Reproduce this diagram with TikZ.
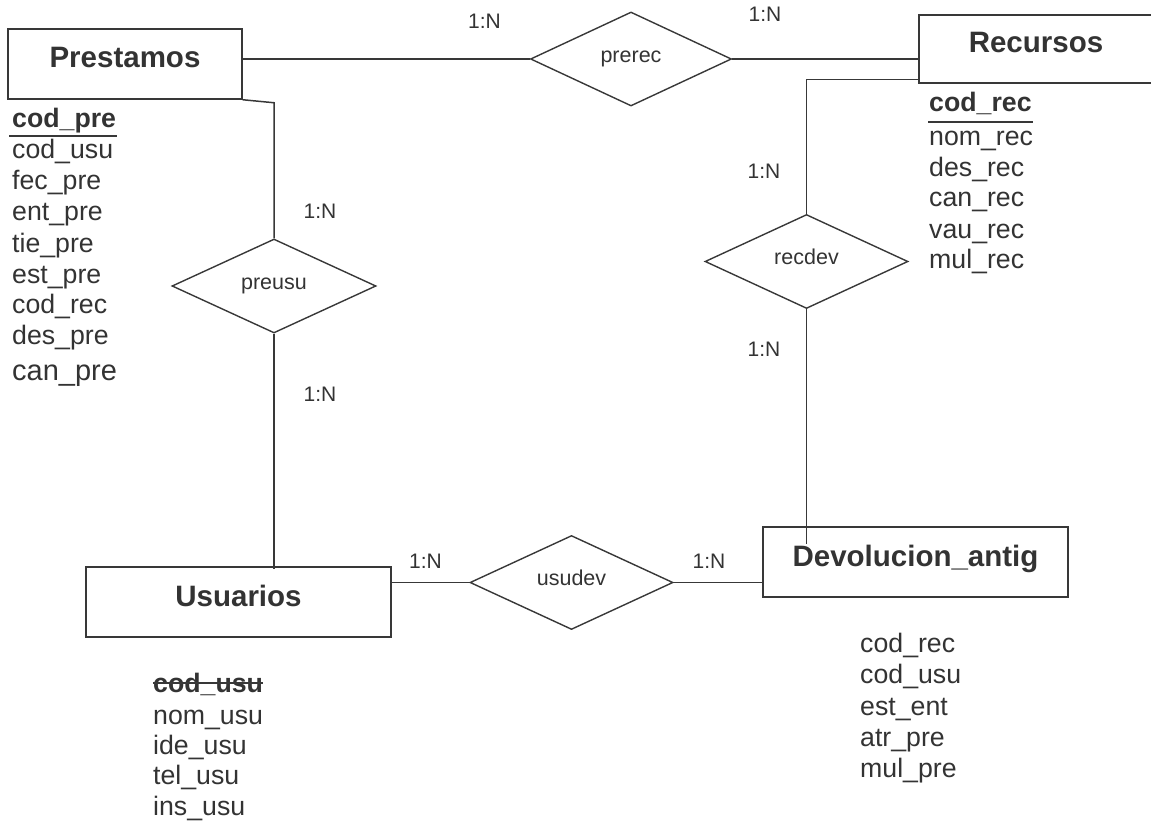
\documentclass[tikz,border=0pt]{standalone}
\usepackage{fontspec}
\setmainfont{Liberation Sans}
\usetikzlibrary{shapes.geometric}
\definecolor{ink}{HTML}{333333}
\definecolor{edge}{HTML}{383838}

\begin{document}
\begin{tikzpicture}[x=1pt,y=-1pt,
  entity/.style={draw=edge, line width=1.5pt, rectangle, minimum width=305pt,
    minimum height=70pt, inner sep=0pt, text=ink,
    font=\fontsize{29.5}{32}\selectfont\bfseries, text height=21pt, text depth=13pt},
  rel/.style={draw=edge, line width=1.4pt, diamond, minimum width=203pt,
    minimum height=94pt, inner sep=0pt, text=ink,
    font=\fontsize{21.5}{24}\selectfont, text height=11.2pt, text depth=4.5pt},
  card/.style={text=ink, inner sep=0pt, font=\fontsize{21}{24}\selectfont},
  attr/.style={anchor=base west, text=ink, inner sep=0pt,
    font=\fontsize{26.7}{30}\selectfont},
  keyattr/.style={attr, font=\fontsize{26.7}{30}\selectfont\bfseries},
  link/.style={draw=edge, line width=1.5pt},
  keymark/.style={draw=edge, line width=2.6pt},
]
\useasboundingbox (0,0) rectangle (1151,829);

% entities
\node[entity, minimum width=234pt] (pre) at (125,64) {Prestamos};
\node[entity, minimum width=234pt, minimum height=68pt] (rec) at (1036,49) {Recursos};
\node[entity] (usu) at (238.5,602) {Usuarios};
\node[entity] (dev) at (915.5,562) {Devolucion\_antig\hspace{15pt}};

% relationships
\node[rel, minimum width=201pt] (prerec) at (631,59) {prerec};
\node[rel] (recdev) at (806.5,261.5) {recdev};
\node[rel, minimum width=204pt] (preusu) at (274,286) {preusu};
\node[rel] (usudev) at (571.5,582.5) {usudev};

% connectors
\draw[link] (pre.east |- prerec.west) -- (prerec.west);
\draw[link] (prerec.east) -- (prerec.east -| rec.west);
\draw[link] ([yshift=4pt]rec.south west) -| (recdev.north);
\draw[link] (recdev.south) -- ([yshift=-18pt]recdev.south |- dev.north);
\draw[link] (pre.south east) -- ([yshift=-3pt]pre.south east -| preusu.north) -- (preusu.north);
\draw[link] (preusu.south) -- ([yshift=-3pt]preusu.south |- usu.north);
\draw[link] (usudev.west) -- (usudev.west -| usu.east);
\draw[link] (usudev.east) -- (usudev.east -| dev.west);

% cardinalities
\node[card] (c1) at (484.5,21.5) {1:N};
\node[card] (c2) at (765,14) {1:N};
\node[card] (c3) at (320,211) {1:N};
\node[card] (c4) at (320,394) {1:N};
\node[card] (c5) at (764,171) {1:N};
\node[card] (c6) at (764,349) {1:N};
\node[card] (c7) at (425.5,561) {1:N};
\node[card] (c8) at (709,561) {1:N};

% Prestamos attributes
\node[keyattr] (pk) at (12,128) {cod\_pre};
\draw[keymark] ([xshift=-3pt,yshift=-8pt]pk.base west) -- ([xshift=1pt,yshift=-8pt]pk.base east);
\foreach \t/\y [count=\i] in {cod\_usu/159, fec\_pre/190, ent\_pre/221, tie\_pre/252,
    est\_pre/283, cod\_rec/313, des\_pre/344}
  \node[attr] (pa\i) at (12,\y) {\t};
\node[attr, font=\fontsize{29}{32}\selectfont] (pa8) at (12,380) {can\_pre};

% Recursos attributes
\node[keyattr] (rk) at (929,112) {cod\_rec};
\draw[keymark] ([xshift=-1pt,yshift=-10pt]rk.base west) -- ([xshift=1pt,yshift=-10pt]rk.base east);
\foreach \t/\y [count=\i] in {nom\_rec/146, des\_rec/177, can\_rec/207, vau\_rec/238, mul\_rec/268}
  \node[attr] (ra\i) at (929,\y) {\t};

% Usuarios attributes
\node[keyattr] (uk) at (153,692) {cod\_usu};
\draw[keymark] ([yshift=9pt]uk.base west) -- ([yshift=9pt]uk.base east);
\foreach \t/\y [count=\i] in {nom\_usu/724, ide\_usu/754, tel\_usu/784, ins\_usu/815}
  \node[attr] (ua\i) at (153,\y) {\t};

% Devolucion_antig attributes
\foreach \t/\y [count=\i] in {cod\_rec/652, cod\_usu/683, est\_ent/715, atr\_pre/746, mul\_pre/777}
  \node[attr] (da\i) at (860,\y) {\t};
\end{tikzpicture}
\end{document}
